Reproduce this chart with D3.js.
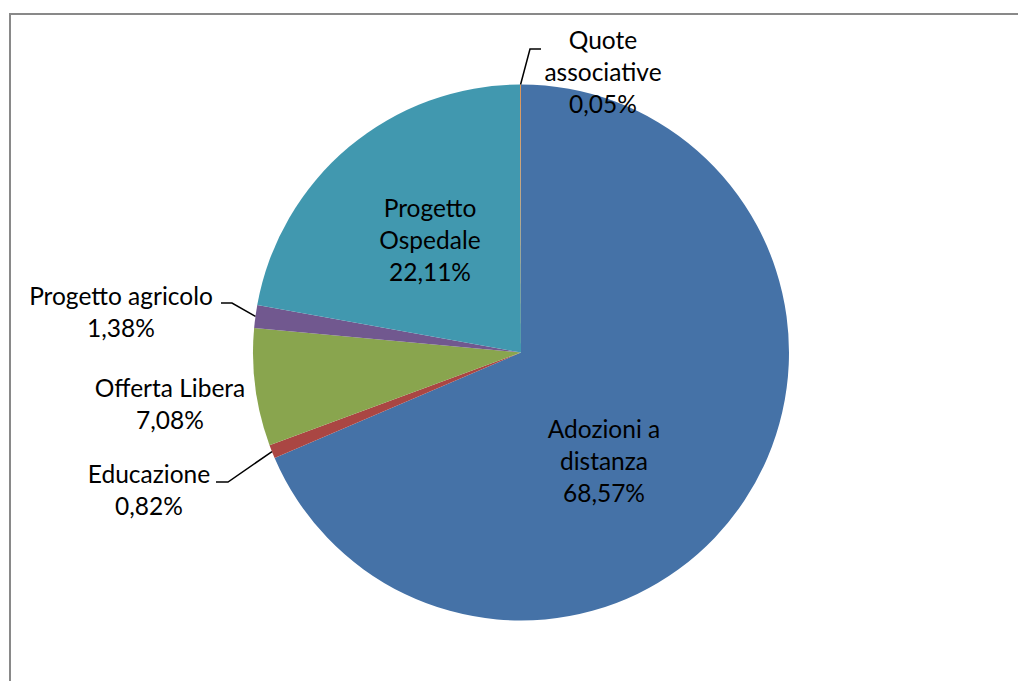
<!DOCTYPE html>
<html>
<head>
<meta charset="utf-8">
<script src="https://cdn.jsdelivr.net/npm/d3@7/dist/d3.min.js"></script>
<style>
  html, body { margin: 0; padding: 0; background: #fff; }
  svg { display: block; }
  text { font-family: "Lato", "Liberation Sans", sans-serif; fill: #000; }
</style>
</head>
<body>
<svg id="chart" width="1018" height="681"></svg>
<script>
// ---- data ----
const categories = ["Adozioni a distanza", "Educazione", "Offerta Libera", "Progetto agricolo", "Progetto Ospedale", "Quote associative"];
const values = [68.57, 0.82, 7.08, 1.38, 22.11, 0.05];
const valueLabels = ["68,57%", "0,82%", "7,08%", "1,38%", "22,11%", "0,05%"];
const labelLines = [
  ["Adozioni a", "distanza"],
  ["Educazione"],
  ["Offerta Libera"],
  ["Progetto agricolo"],
  ["Progetto", "Ospedale"],
  ["Quote", "associative"]
];
const colors = ["#4572A7", "#AA4643", "#89A54E", "#71588F", "#4198AF", "#DB843D"];

// ---- layout (label anchors: x, first baseline, anchor; leader elbow/end) ----
const labelLayout = [
  { x: 604, y: 438, anchor: "middle" },
  { x: 149, y: 483, anchor: "middle", elbow: [228, 482], end: [216, 482] },
  { x: 170, y: 397, anchor: "middle" },
  { x: 121, y: 305, anchor: "middle", elbow: [232, 303], end: [221, 303] },
  { x: 430, y: 217, anchor: "middle" },
  { x: 603, y: 49, anchor: "middle", elbow: [530, 49], end: [541, 49] }
];

const W = 1018, H = 681;
const cx = 521, cy = 352.5, R = 268;
const lineH = 32;

const svg = d3.select("#chart");

// outer frame (left + top visible)
svg.append("rect")
  .attr("x", 10).attr("y", 14)
  .attr("width", W + 20).attr("height", H + 20)
  .attr("fill", "none").attr("stroke", "#898989").attr("stroke-width", 2);

const data = categories.map((c, i) => ({ name: c, value: values[i], i }));
const pie = d3.pie().value(d => d.value).sort(null).startAngle(0).endAngle(2 * Math.PI);
const arcs = pie(data);
const arc = d3.arc().innerRadius(0).outerRadius(R);

const g = svg.append("g").attr("transform", `translate(${cx},${cy})`);
g.selectAll("path.slice")
  .data(arcs)
  .join("path")
  .attr("class", "slice")
  .attr("d", arc)
  .attr("fill", d => colors[d.data.i]);

// leader lines
arcs.forEach(a => {
  const L = labelLayout[a.data.i];
  if (!L.elbow) return;
  const mid = (a.startAngle + a.endAngle) / 2;
  const px = cx + R * Math.sin(mid);
  const py = cy - R * Math.cos(mid);
  svg.append("polyline")
    .attr("points", [[px, py], L.elbow, L.end].map(p => p.join(",")).join(" "))
    .attr("fill", "none")
    .attr("stroke", "#000")
    .attr("stroke-width", 1.5);
});

// labels
arcs.forEach(a => {
  const i = a.data.i;
  const L = labelLayout[i];
  const lines = labelLines[i].concat([valueLabels[i]]);
  const t = svg.append("text")
    .attr("text-anchor", L.anchor)
    .style("font-size", "24.5px");
  lines.forEach((ln, k) => {
    t.append("tspan")
      .attr("x", L.x)
      .attr("y", L.y + k * lineH)
      .text(ln);
  });
});
</script>
</body>
</html>
